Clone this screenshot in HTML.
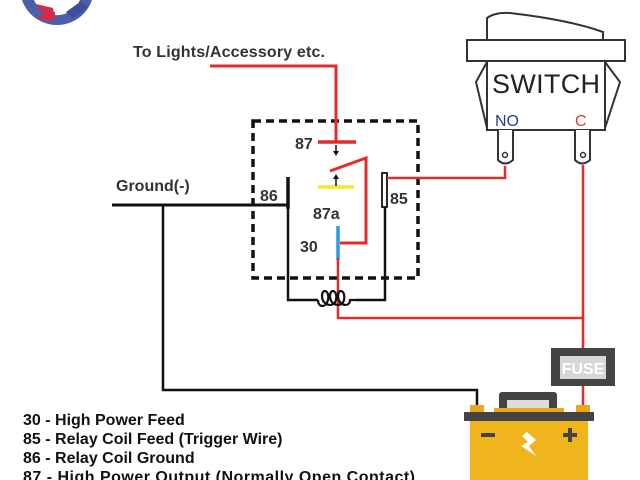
<!DOCTYPE html>
<html><head><meta charset="utf-8"><style>
html,body{margin:0;padding:0;background:#fff;width:640px;height:480px;overflow:hidden}
svg{display:block}
text{font-family:"Liberation Sans",Arial,sans-serif;font-weight:bold;fill:#333}
</style></head><body>
<svg width="640" height="480" viewBox="0 0 640 480" xmlns="http://www.w3.org/2000/svg">
<path d="M22,0 A37,37 0 0 0 92,0 L80,0 A25,25 0 0 1 34,0 Z" fill="#4a5fa8"/>
<path d="M36,4 A26,26 0 0 0 55,18 L53,8 Z" fill="#d42a4a"/>
<path d="M44,12 L38,19 A37,37 0 0 0 55,20 L55,12 Z" fill="#d42a4a"/>
<path d="M66,12 L72,18 A37,37 0 0 0 88,6 L80,2 Z" fill="#3b4f9a"/>

<text x="133" y="57" font-size="16" textLength="192">To Lights/Accessory etc.</text>
<rect x="253" y="121" width="165" height="157" fill="none" stroke="#111" stroke-width="3.5" stroke-dasharray="8,5"/>
<polyline points="210,66 336,66 336,142" fill="none" stroke="#e42b2b" stroke-width="3"/>
<line x1="318" y1="142" x2="356" y2="142" stroke="#e42b2b" stroke-width="3.5"/>
<text x="295" y="149" font-size="16">87</text>
<line x1="336" y1="145" x2="336" y2="153" stroke="#111" stroke-width="1.5"/>
<path d="M333,151 L339,151 L336,156 Z" fill="#111"/>
<polyline points="330,171 366,158 366,243 340,243" fill="none" stroke="#e42b2b" stroke-width="3"/>
<line x1="318" y1="187" x2="354" y2="187" stroke="#f5ea22" stroke-width="3.5"/>
<line x1="336" y1="186" x2="336" y2="177" stroke="#111" stroke-width="1.5"/>
<path d="M333,179 L339,179 L336,174 Z" fill="#111"/>
<text x="313" y="219" font-size="16">87a</text>
<text x="300" y="252" font-size="16">30</text>
<line x1="338" y1="226" x2="338" y2="260" stroke="#2a9be0" stroke-width="3.5"/>
<polyline points="338,258 338,318 583,318 583,165" fill="none" stroke="#e42b2b" stroke-width="2.5"/>
<line x1="583" y1="318" x2="583" y2="410" stroke="#e42b2b" stroke-width="2.5"/>
<line x1="288" y1="177" x2="288" y2="209" stroke="#111" stroke-width="3.5"/>
<text x="260" y="201" font-size="16">86</text>
<text x="116" y="191" font-size="16">Ground(-)</text>
<line x1="112" y1="205" x2="288" y2="205" stroke="#111" stroke-width="3"/>
<polyline points="163,205 163,390 477,390 477,408" fill="none" stroke="#111" stroke-width="2.5"/>
<rect x="382" y="173" width="5" height="34" fill="#fff" stroke="#111" stroke-width="1.8"/>
<text x="390" y="204" font-size="16">85</text>
<polyline points="387,178 505,178 505,166" fill="none" stroke="#e42b2b" stroke-width="2.5"/>
<polyline points="288,207 288,300 318,300" fill="none" stroke="#111" stroke-width="2.5"/>
<polyline points="356,300 385,300 385,207" fill="none" stroke="#111" stroke-width="2.5"/>
<path d="M318,300 C318,308 326,308 328,300 C330,290 322,288 322,296 C322,306 334,308 336,300 C338,290 330,288 330,296 C330,306 342,308 344,300 C346,290 338,288 338,296 C338,306 350,308 350,300 L356,300" fill="none" stroke="#111" stroke-width="2.2"/>
<path d="M487,40 L487,18 Q495,12 510,13 Q570,20 603,32 L603,40 Z" fill="#fff" stroke="#333" stroke-width="2"/>
<rect x="467" y="40" width="158" height="21" fill="#fff" stroke="#333" stroke-width="2"/>
<path d="M487,62 L476,82 L487,128 Z M605,62 L620,82 L605,128 Z" fill="#fff" stroke="#333" stroke-width="2"/>
<rect x="487" y="61" width="118" height="69" fill="#fff" stroke="#333" stroke-width="2"/>
<text x="492" y="93" font-size="27" textLength="108" style="font-weight:normal;fill:#222">SWITCH</text>
<text x="495" y="126" font-size="16" style="font-weight:normal;fill:#2b3f8f">NO</text>
<text x="575" y="126" font-size="16" style="font-weight:normal;fill:#c8452f">C</text>
<path d="M498,130 L498,160 Q505,167 513,160 L513,130" fill="#fff" stroke="#333" stroke-width="2"/>
<circle cx="505" cy="155" r="2.5" fill="none" stroke="#333" stroke-width="1.5"/>
<path d="M575,130 L575,160 Q582,167 590,160 L590,130" fill="#fff" stroke="#333" stroke-width="2"/>
<circle cx="583" cy="155" r="2.5" fill="none" stroke="#333" stroke-width="1.5"/>
<rect x="551" y="348" width="64" height="38" fill="#444"/>
<rect x="560" y="356" width="46" height="23" fill="#d6d6d6"/>
<text x="583" y="374" font-size="16" text-anchor="middle" style="fill:#fff">FUSE</text>
<rect x="499" y="392" width="58" height="20" rx="3" fill="#444"/>
<rect x="507" y="400" width="42" height="10" fill="#ddd"/>
<rect x="470" y="405" width="14" height="8" fill="#e8a81c"/>
<rect x="576" y="405" width="14" height="8" fill="#e8a81c"/>
<rect x="494" y="408" width="70" height="5" fill="#e8a81c"/>
<rect x="464" y="412" width="130" height="9" fill="#444"/>
<rect x="470" y="421" width="118" height="59" fill="#f0b41c"/>
<rect x="481" y="433" width="14" height="4" fill="#444"/>
<rect x="563" y="433" width="14" height="4" fill="#444"/>
<rect x="568" y="428" width="4" height="14" fill="#444"/>
<path d="M527,432 L536,440 L529,446 L536,456 L521,446 L528,442 L522,436 Z" fill="#fff"/>
<text x="23" y="425" font-size="16" style="fill:#111">30 - High Power Feed</text>
<text x="23" y="444" font-size="16" style="fill:#111">85 - Relay Coil Feed (Trigger Wire)</text>
<text x="23" y="463" font-size="16" style="fill:#111">86 - Relay Coil Ground</text>
<text x="23" y="482" font-size="16" textLength="392" style="fill:#111">87 - High Power Output (Normally Open Contact)</text>
</svg>
</body></html>
